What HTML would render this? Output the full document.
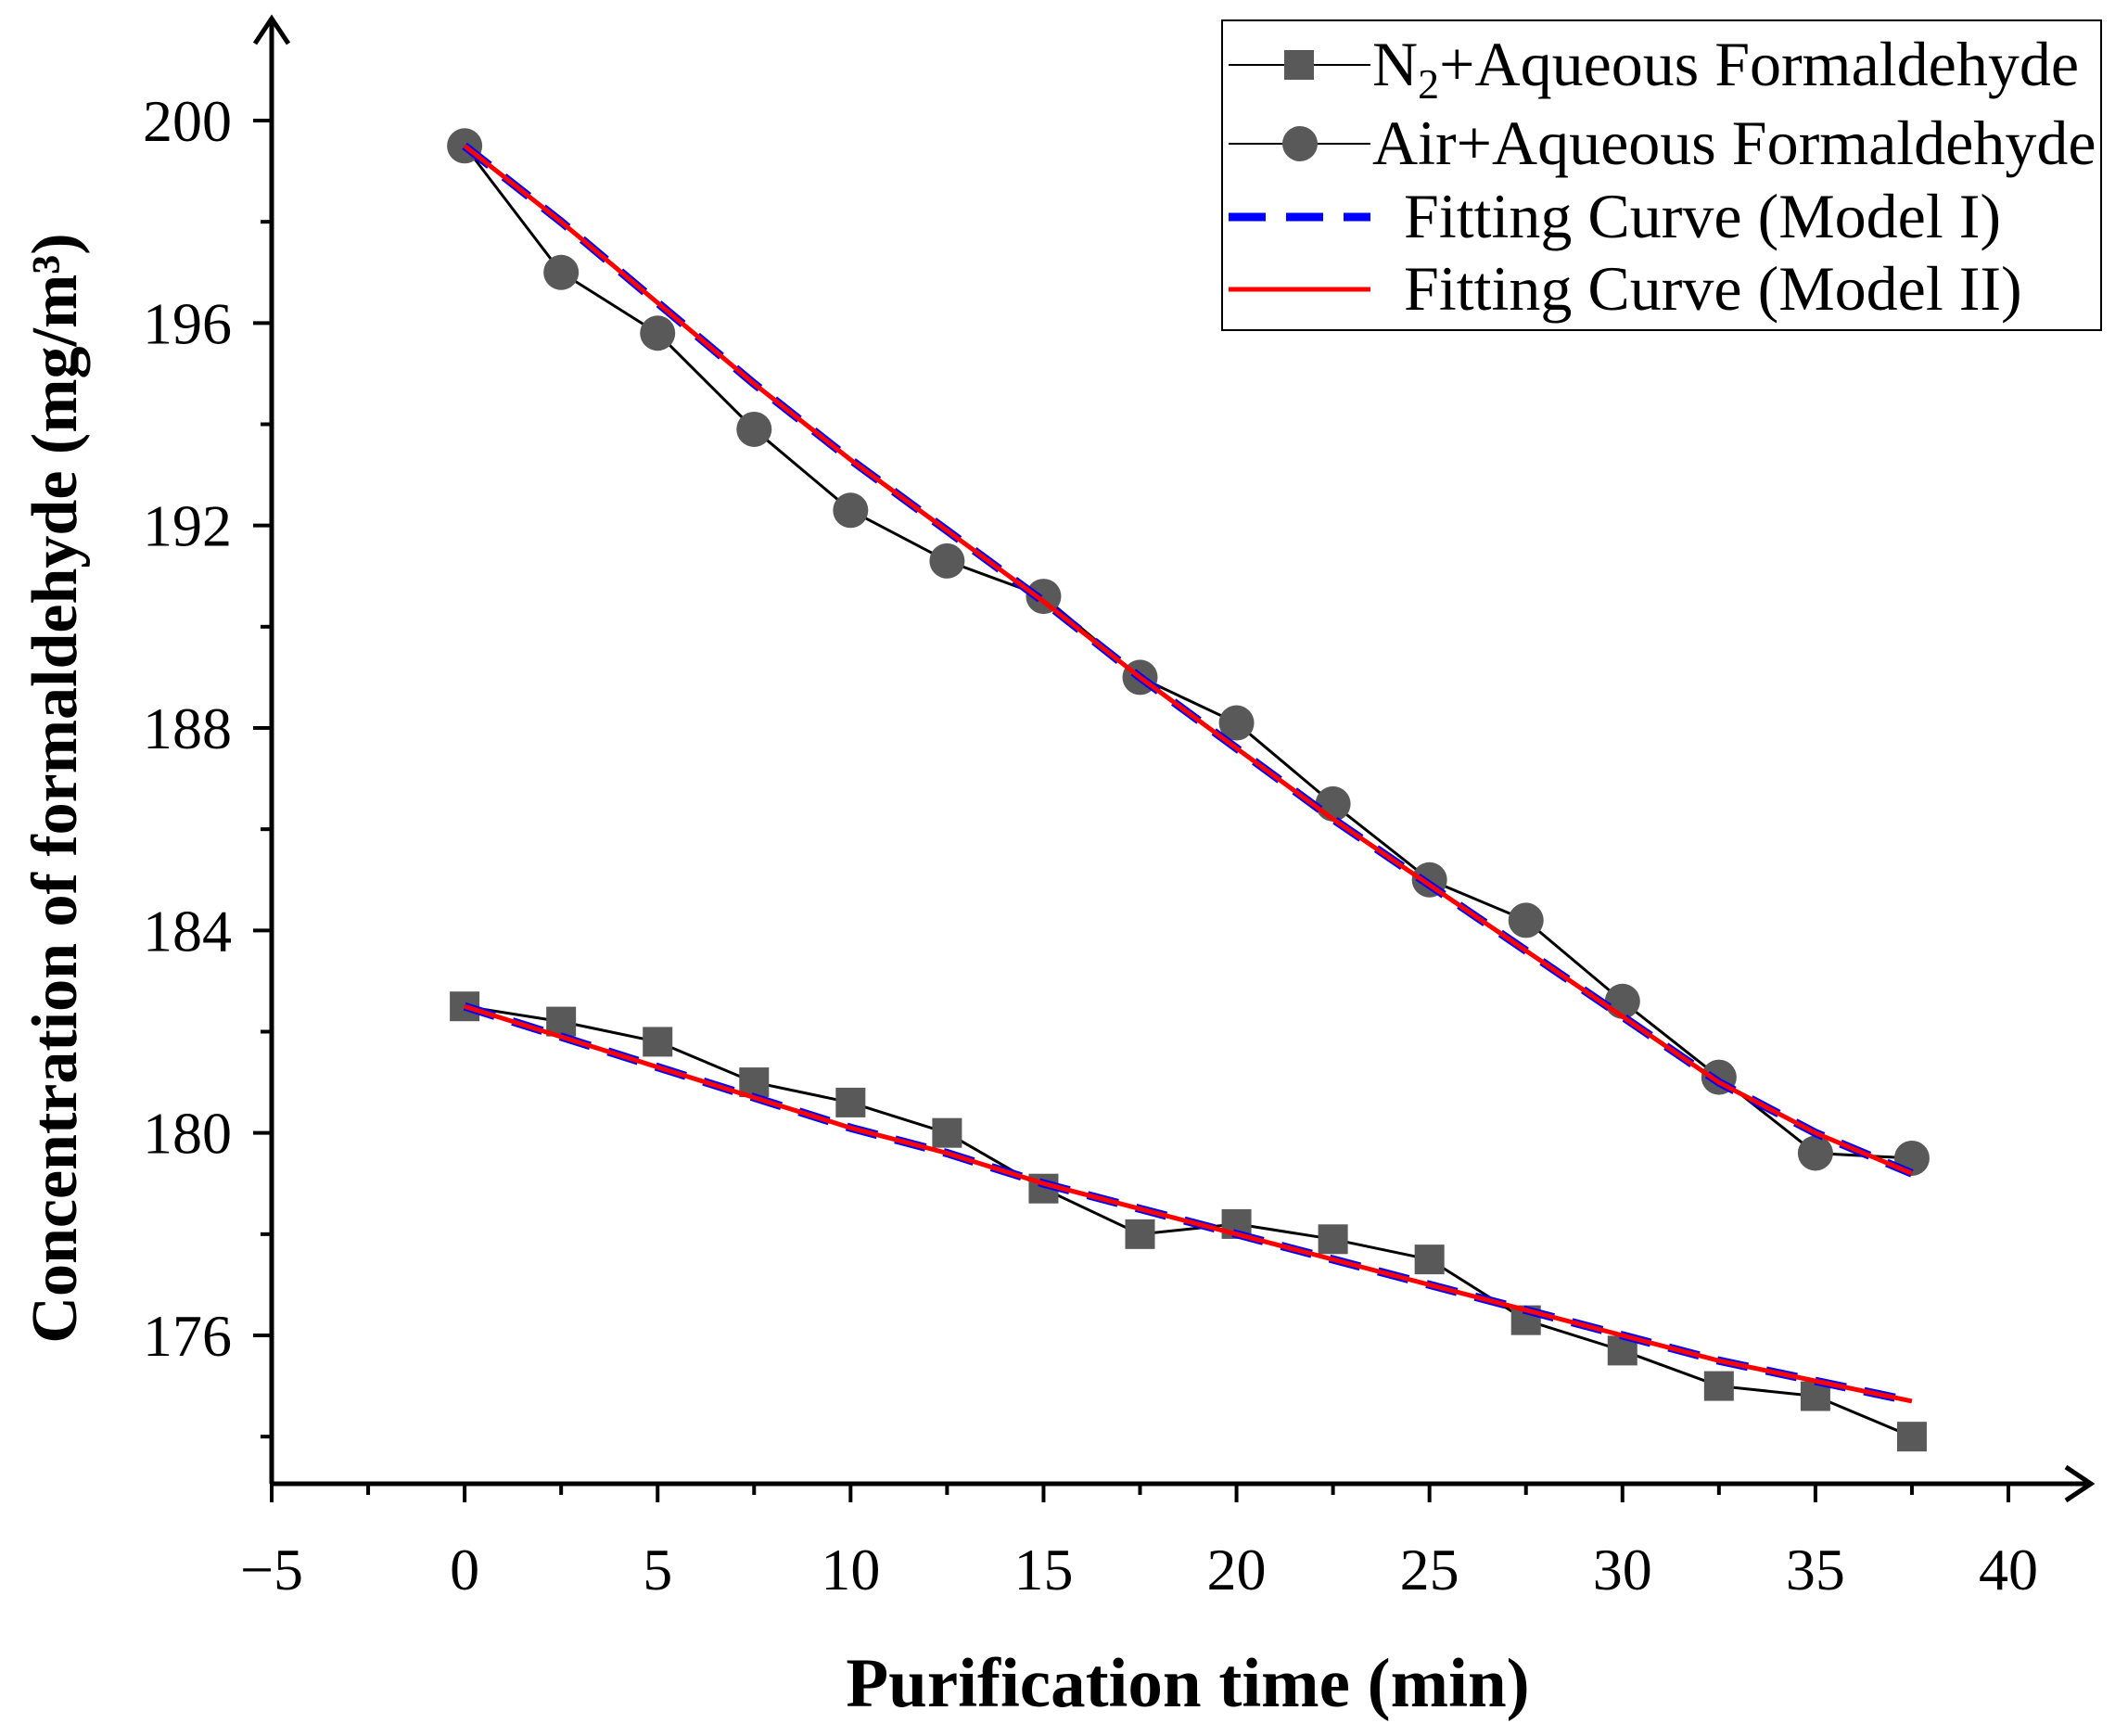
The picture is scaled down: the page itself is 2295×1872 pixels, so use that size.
<!DOCTYPE html>
<html><head><meta charset="utf-8"><style>html,body{margin:0;padding:0;background:#fff}svg{display:block}</style></head>
<body>
<svg id="chart" width="2295" height="1872" viewBox="0 0 2295 1872" xmlns="http://www.w3.org/2000/svg" font-family="Liberation Serif, serif">
<g id="axes"></g>
<g id="series"></g>
<g id="legend"></g>
</svg>
<script>
const times=[0,2.5,5,7.5,10,12.5,15,17.5,20,22.5,25,27.5,30,32.5,35,37.5];
const n2Values=[182.5,182.2,181.8,181.0,180.6,180.0,178.9,178.0,178.2,177.9,177.5,176.3,175.7,175.0,174.8,174.0];
const airValues=[199.5,197.0,195.8,193.9,192.3,191.3,190.6,189.0,188.1,186.5,185.0,184.2,182.6,181.1,179.6,179.5];
const airFit=[199.5,198.0,196.4,194.8,193.3,191.9,190.5,189.0,187.6,186.2,184.9,183.6,182.3,181.0,180.0,179.2];
const n2Fit=[182.5,181.9,181.3,180.7,180.1,179.6,179.0,178.5,178.0,177.5,177.0,176.5,176.0,175.5,175.1,174.7];
const xTicks=[-5,0,5,10,15,20,25,30,35,40];
const yTicks=[176,180,184,188,192,196,200];

const NS='http://www.w3.org/2000/svg';
const X0=293,X1=2166,Y0=1440,Y1=130;
const sx=v=>X0+(v+5)/45*(X1-X0);
const sy=v=>Y0+(v-176)/24*(Y1-Y0);
const axY=1600;
function mk(tag,attrs,parent,text){const e=document.createElementNS(NS,tag);for(const k in attrs)e.setAttribute(k,attrs[k]);if(text!==undefined)e.textContent=text;parent.appendChild(e);return e;}
const axes=document.getElementById('axes'),series=document.getElementById('series'),legend=document.getElementById('legend');

let e=mk('line',{x1:X0,y1:axY,x2:2250,y2:axY,stroke:'#000','stroke-width':5},axes);

e=mk('polyline',{points:`2228,1582 2255,1600 2228,1618`,fill:'none',stroke:'#000','stroke-width':5},axes);

e=mk('line',{x1:X0,y1:axY,x2:X0,y2:25,stroke:'#000','stroke-width':5},axes);

e=mk('polyline',{points:`275,47 293,20 311,47`,fill:'none',stroke:'#000','stroke-width':5},axes);


for(let v=-5;v<=40;v+=2.5){const maj=v%5===0;
 e=mk('line',{x1:sx(v),y1:axY,x2:sx(v),y2:axY+(maj?20:12),stroke:'#000','stroke-width':4},axes);
 }
xTicks.forEach(v=>{e=mk('text',{x:sx(v),y:1714,'font-size':64,'text-anchor':'middle'},axes,v<0?'\u2212'+(-v):String(v));
 });
for(let v=174;v<=200;v+=2){const maj=v%4===0;
 e=mk('line',{x1:X0,y1:sy(v),x2:X0-(maj?20:12),y2:sy(v),stroke:'#000','stroke-width':4},axes);
 }
yTicks.forEach(v=>{e=mk('text',{x:250,y:sy(v)+22,'font-size':64,'text-anchor':'end'},axes,String(v));
 });
e=mk('text',{x:1281,y:1840,'font-size':75,'font-weight':'bold','text-anchor':'middle'},axes,'Purification time (min)');

e=mk('text',{x:0,y:0,'font-size':70,'font-weight':'bold','text-anchor':'middle',transform:'translate(82,850) rotate(-90)'},axes,'Concentration of formaldehyde (mg/m³)');


const pts=(arr)=>times.map((t,i)=>sx(t)+','+sy(arr[i])).join(' ');
e=mk('polyline',{points:pts(n2Values),fill:'none',stroke:'#000','stroke-width':3},series);

e=mk('polyline',{points:pts(airValues),fill:'none',stroke:'#000','stroke-width':3},series);

times.forEach((t,i)=>{e=mk('rect',{x:sx(t)-16,y:sy(n2Values[i])-16,width:32,height:32,fill:'#595959'},series);
 });
times.forEach((t,i)=>{e=mk('circle',{cx:sx(t),cy:sy(airValues[i]),r:19,fill:'#595959'},series);
 });
[[airFit,'air'],[n2Fit,'n2']].forEach(([a,n])=>{
 e=mk('polyline',{points:pts(a),fill:'none',stroke:'#0000ff','stroke-width':9,'stroke-dasharray':'34,20'},series);
 
 e=mk('polyline',{points:pts(a),fill:'none',stroke:'#ff0000','stroke-width':5},series);
 });

e=mk('rect',{x:1318,y:22,width:948,height:334,fill:'#fff',stroke:'#000','stroke-width':2},legend);

const rows=[70,155,234,312];
mk('line',{x1:1325,y1:rows[0],x2:1478,y2:rows[0],stroke:'#000','stroke-width':2},legend);
mk('rect',{x:1385,y:rows[0]-16,width:32,height:32,fill:'#595959'},legend);
e=mk('text',{x:1480,y:rows[0]+22,'font-size':68},legend);

e.innerHTML='N<tspan font-size="46" dy="14">2</tspan><tspan dy="-14">+Aqueous Formaldehyde</tspan>';
mk('line',{x1:1325,y1:rows[1],x2:1478,y2:rows[1],stroke:'#000','stroke-width':2},legend);
mk('circle',{cx:1402,cy:rows[1],r:19,fill:'#595959'},legend);
e=mk('text',{x:1480,y:rows[1]+22,'font-size':68},legend,'Air+Aqueous Formaldehyde');

mk('line',{x1:1325,y1:rows[2],x2:1478,y2:rows[2],stroke:'#0000ff','stroke-width':9,'stroke-dasharray':'40,22'},legend);
e=mk('text',{x:1514,y:rows[2]+22,'font-size':68},legend,'Fitting Curve (Model I)');

mk('line',{x1:1325,y1:rows[3],x2:1478,y2:rows[3],stroke:'#ff0000','stroke-width':5},legend);
e=mk('text',{x:1514,y:rows[3]+22,'font-size':68},legend,'Fitting Curve (Model II)');

</script>
</body></html>
